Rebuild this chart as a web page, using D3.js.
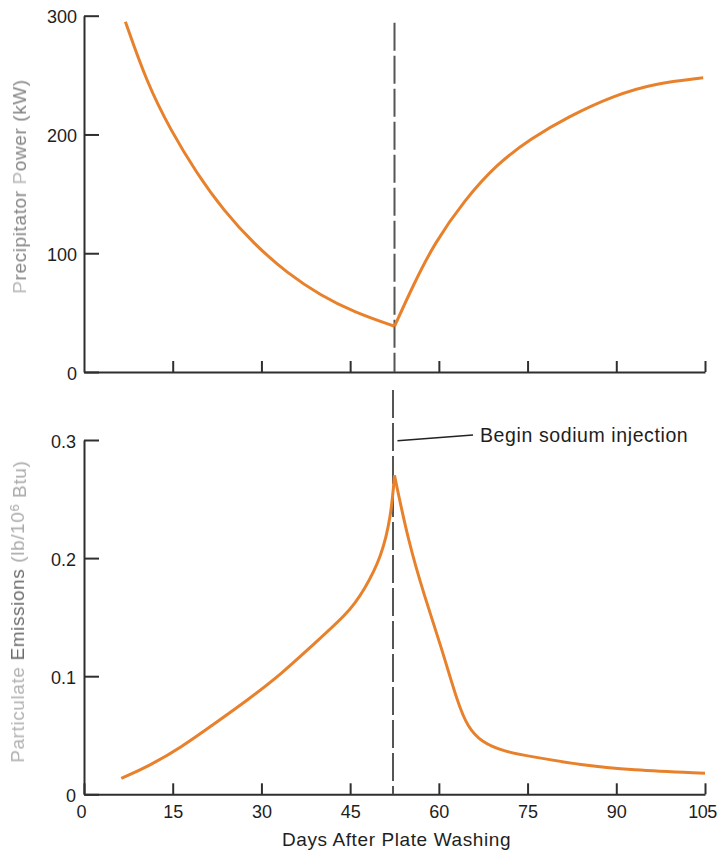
<!DOCTYPE html>
<html>
<head>
<meta charset="utf-8">
<script src="https://cdn.jsdelivr.net/npm/d3@7/dist/d3.min.js"></script>
<style>
  html, body { margin: 0; padding: 0; background: #fff; }
  svg { display: block; font-family: "Liberation Sans", Arial, Helvetica, sans-serif; }
</style>
</head>
<body>
<svg id="chart" width="718" height="850"></svg>
<script>
// Days after plate washing on which sodium injection began
const injectionDay = 52.5;

// Precipitator power (kW), before and after injection
const powerBeforeDays   = [7, 10.6, 14.6, 19.1, 23.6, 28.7, 34.4, 40, 45.6, 52.5];
const powerBeforeValues = [295, 244, 204, 167, 136, 108, 83, 64.6, 50.5, 38.5];
const powerAfterDays    = [52.5, 55.8, 59.2, 64.3, 69.9, 75.6, 81.8, 89.7, 96.5, 104.7];
const powerAfterValues  = [38.5, 74.5, 108, 144.6, 175.6, 196.6, 214.8, 233, 243, 247.7];

// Particulate emissions (lb/10^6 Btu), before and after injection
const emisBeforeDays   = [6.3, 10.8, 16.5, 22.1, 27.7, 33.4, 39, 44.6, 47.4, 50.3, 51.9, 52.5];
const emisBeforeValues = [0.0135, 0.0234, 0.040, 0.060, 0.080, 0.102, 0.128, 0.153, 0.173, 0.201, 0.235, 0.270];
const emisAfterDays    = [52.5, 54.8, 57.6, 60.4, 63.2, 64.9, 67.1, 71.1, 75.6, 84, 92.5, 105];
const emisAfterValues  = [0.270, 0.215, 0.167, 0.125, 0.077, 0.057, 0.0445, 0.036, 0.032, 0.0248, 0.0206, 0.0178];

// Tick values
const dayTicks      = [0, 15, 30, 45, 60, 75, 90, 105];
const powerTicks    = [0, 100, 200, 300];
const emissionTicks = [0, 0.1, 0.2, 0.3];

const svg = d3.select("#chart");
const ORANGE = "#e8812c";
const AXIS = "#2f2f2f";

const x = d3.scaleLinear().domain([0, 105]).range([84, 705]);
const yPower = d3.scaleLinear().domain([0, 300]).range([372, 15.7]);
const yEmis = d3.scaleLinear().domain([0, 0.3]).range([794.3, 440]);

const zip = (ds, vs) => ds.map((d, i) => ({ day: d, v: vs[i] }));

// blur for the soft axis titles
const defs = svg.append("defs");
defs.append("filter").attr("id", "soft")
  .attr("x", "-20%").attr("y", "-5%").attr("width", "140%").attr("height", "110%")
  .append("feGaussianBlur").attr("stdDeviation", 0.55);

function styleAxis(g) {
  g.selectAll("path.domain").attr("stroke", AXIS).attr("stroke-width", 2);
  g.selectAll(".tick line").attr("stroke", AXIS).attr("stroke-width", 2);
  g.selectAll(".tick text")
    .attr("fill", "#1e1e1e")
    .style("font-size", "18px")
    .style("font-family", "\"Liberation Sans\", Arial, Helvetica, sans-serif");
}

// ---------- Top panel: precipitator power ----------
svg.append("g")
  .attr("transform", `translate(0,${yPower(0)})`)
  .call(d3.axisBottom(x).tickValues(dayTicks.slice(1)).tickSizeInner(-11).tickSizeOuter(0).tickFormat(""))
  .call(styleAxis);

svg.append("g")
  .attr("transform", `translate(${x(0)},0)`)
  .call(d3.axisLeft(yPower).tickValues(powerTicks).tickSizeInner(-15).tickSizeOuter(0).tickPadding(7).tickFormat(d3.format("d")))
  .call(styleAxis)
  .call(g => g.selectAll(".tick text").attr("dy", "0.4em"));

// ---------- Bottom panel: particulate emissions ----------
svg.append("g")
  .attr("transform", `translate(0,${yEmis(0)})`)
  .call(d3.axisBottom(x).tickValues(dayTicks).tickSizeInner(-11).tickSizeOuter(0).tickPadding(10.5).tickFormat(d3.format("d")))
  .call(styleAxis)
  .call(g => {
    g.selectAll(".tick text").filter(d => d === 0).attr("dx", "-3px");
    g.selectAll(".tick text").filter(d => d === 105).attr("dx", "-3px").style("letter-spacing", "-0.5px");
  });

svg.append("g")
  .attr("transform", `translate(${x(0)},0)`)
  .call(d3.axisLeft(yEmis).tickValues(emissionTicks).tickSizeInner(-15).tickSizeOuter(0).tickPadding(8).tickFormat(d => d === 0 ? "0" : d3.format(".1f")(d)))
  .call(styleAxis)
  .call(g => g.selectAll(".tick text").attr("dy", "0.4em"));

// ---------- Injection marker (dashed) ----------
const xi = x(injectionDay);
svg.append("line")
  .attr("x1", xi).attr("x2", xi)
  .attr("y1", yPower(300) + 7).attr("y2", yPower(0))
  .attr("stroke", "#555").attr("stroke-width", 2)
  .attr("stroke-dasharray", "28 5");
svg.append("line")
  .attr("x1", xi - 1.5).attr("x2", xi - 1.5)
  .attr("y1", yEmis(0.3) - 50).attr("y2", yEmis(0))
  .attr("stroke", "#555").attr("stroke-width", 2)
  .attr("stroke-dasharray", "28 5");

// ---------- Curves (each side of the injection drawn separately so the turn stays sharp) ----------
const line = (yScale) => d3.line()
  .x(d => x(d.day)).y(d => yScale(d.v))
  .curve(d3.curveBasis);

[[powerBeforeDays, powerBeforeValues], [powerAfterDays, powerAfterValues]].forEach(([ds, vs]) => {
  svg.append("path")
    .datum(zip(ds, vs))
    .attr("d", line(yPower))
    .attr("fill", "none").attr("stroke", ORANGE)
    .attr("stroke-width", 3).attr("stroke-linecap", "butt");
});

[[emisBeforeDays, emisBeforeValues], [emisAfterDays, emisAfterValues]].forEach(([ds, vs]) => {
  svg.append("path")
    .datum(zip(ds, vs))
    .attr("d", line(yEmis))
    .attr("fill", "none").attr("stroke", ORANGE)
    .attr("stroke-width", 3).attr("stroke-linecap", "butt");
});

// ---------- Annotation ----------
svg.append("line")
  .attr("x1", xi + 3).attr("y1", 440.7)
  .attr("x2", 473).attr("y2", 435)
  .attr("stroke", "#222").attr("stroke-width", 1.6);
svg.append("text")
  .attr("x", 480).attr("y", 441.7)
  .attr("fill", "#1e1e1e")
  .style("font-size", "19.5px").style("letter-spacing", "0.6px")
  .text("Begin sodium injection");

// ---------- Axis titles ----------
svg.append("text")
  .attr("x", x(52.5) + 2).attr("y", 846)
  .attr("text-anchor", "middle")
  .attr("fill", "#1e1e1e")
  .style("font-size", "19px").style("letter-spacing", "0.6px")
  .text("Days After Plate Washing");

const topTitle = svg.append("text")
  .attr("transform", "translate(26,186.5) rotate(-90)")
  .attr("text-anchor", "middle")
  .attr("filter", "url(#soft)")
  .style("font-size", "19px").style("letter-spacing", "0.6px")
  .attr("fill", "#858585");
topTitle.append("tspan").attr("fill", "#b9b9b9").text("P");
topTitle.append("tspan").text("recipitator ");
topTitle.append("tspan").attr("fill", "#b9b9b9").text("P");
topTitle.append("tspan").text("ower (kW)");

const botTitle = svg.append("text")
  .attr("transform", "translate(24,611.7) rotate(-90)")
  .attr("text-anchor", "middle")
  .attr("filter", "url(#soft)")
  .style("font-size", "19px").style("letter-spacing", "0.6px");
botTitle.append("tspan").attr("fill", "#b2b2b2").text("Particulate ");
botTitle.append("tspan").attr("fill", "#6c6c6c").text("Emissions ");
botTitle.append("tspan").attr("fill", "#aaaaaa").text("(lb/10");
botTitle.append("tspan").attr("fill", "#aaaaaa").attr("dy", "-0.4em").style("font-size", "13px").text("6");
botTitle.append("tspan").attr("fill", "#aaaaaa").attr("dy", "0.4em").text(" Btu)");
</script>
</body>
</html>
